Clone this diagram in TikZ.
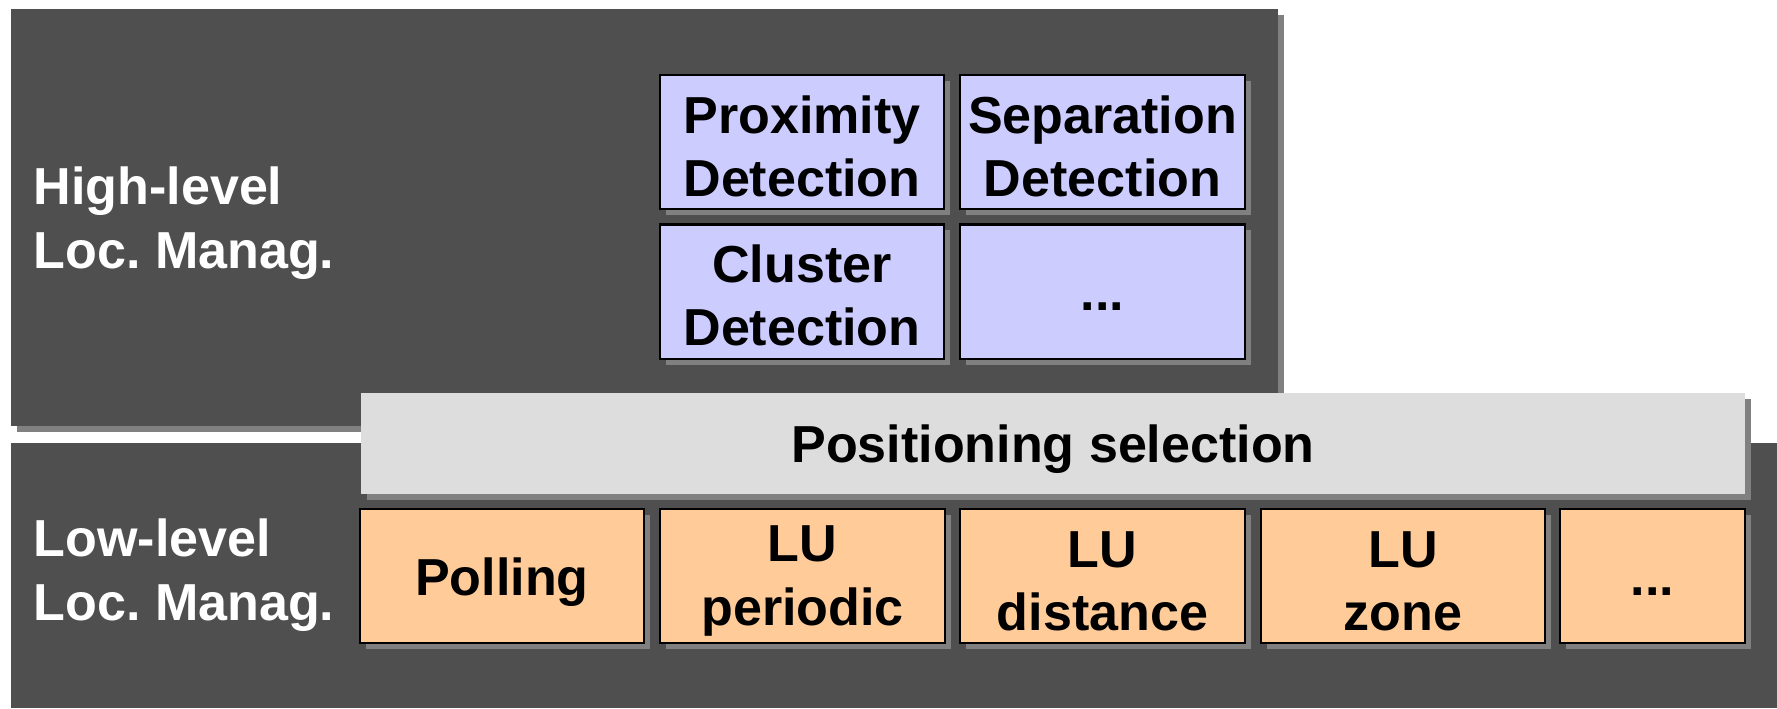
\documentclass[tikz,border=0pt]{standalone}
\usepackage{fontspec}
\setmainfont{Liberation Sans}
\usetikzlibrary{shadows}
\definecolor{panelgray}{RGB}{79,79,79}
\definecolor{shadowgray}{RGB}{128,128,128}
\definecolor{barcolor}{RGB}{221,221,221}
\definecolor{highcolor}{RGB}{204,204,255}
\definecolor{lowcolor}{RGB}{255,204,153}
\newcommand{\boxstrut}{\rule[-0.11cm]{0pt}{0.60cm}}
\newcommand{\topstrut}{\rule{0pt}{0.46cm}}
\frenchspacing

\begin{document}
\begin{tikzpicture}[x=0.01cm,y=-0.01cm,
    every node/.style={font=\bfseries\fontsize{14.8}{18}\selectfont,align=center,inner sep=0pt},
    boxshadow/.style={drop shadow={shadow xshift=0.06cm,shadow yshift=-0.06cm,opacity=1,fill=shadowgray}},
    oneline/.style={execute at begin node=\boxstrut,execute at end node=\boxstrut},
    highbox/.style={boxshadow,draw=black,line width=0.6pt,fill=highcolor,
      minimum width=2.84cm,minimum height=1.34cm},
    lowbox/.style={highbox,fill=lowcolor},
    levellabel/.style={anchor=west,align=left,text=white,
      font=\bfseries\fontsize{14.8}{18.4}\selectfont}]
        \useasboundingbox (0,0) rectangle (1777,708);
        \fill[white] (0,0) rectangle (1777,708);
        % the two layers
        \fill[shadowgray] (17,15) rectangle (1284,432);
        \fill[panelgray] (11,9) rectangle (1278,426);
        \fill[panelgray] (11,443) rectangle (1777,708);
        \node[levellabel] (highlabel) at (33,223) {High-level\\Loc. Manag.};
        \node[levellabel] (lowlabel) at (33,575) {Low-level\\Loc. Manag.};
        % high-level functions
        \node[highbox] (prox)  at (802,142)    {\topstrut Proximity\\Detection};
        \node[highbox] (sep)   at (1102.5,142) {\topstrut Separation\\Detection};
        \node[highbox] (clust) at (802,291.5)  {\topstrut Cluster\\Detection};
        \node[highbox,oneline] (hdots) at (1102.5,291.5) {...};
        % selection bar
        \node[boxshadow,oneline,fill=barcolor,minimum width=13.84cm,minimum height=1.01cm]
          (possel) at (1053,443.5) {Positioning selection};
        % low-level functions
        \node[lowbox,oneline] (poll) at (502,576) {Polling};
        \node[lowbox] (luper)  at (802.5,576)  {\topstrut LU\\periodic};
        \node[lowbox] (ludist) at (1102.5,576) {\topstrut LU\\distance};
        \node[lowbox] (luzone) at (1403,576)   {\topstrut LU\\zone};
        \node[lowbox,oneline,minimum width=1.85cm] (ldots) at (1652.5,576) {...};
      \end{tikzpicture}
\end{document}
